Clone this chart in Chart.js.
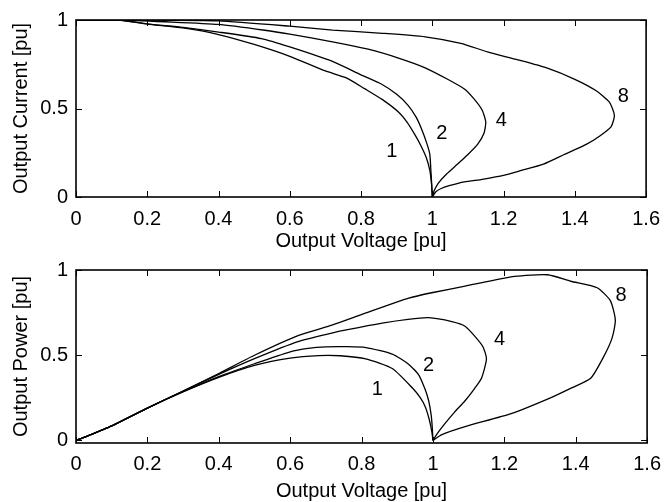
<!DOCTYPE html>
<html>
<head>
<meta charset="utf-8">
<script src="https://cdn.jsdelivr.net/npm/chart.js@4.4.1/dist/chart.umd.min.js"></script>
<style>
    body { margin: 0; background: #fff; }
    #wrap { position: relative; width: 670px; height: 502px; }
    #topChart { position: absolute; left: 0; top: 0; }
    #bottomChart { position: absolute; left: 0; top: 250px; }
</style>
</head>
<body>
<div id="wrap">
    <canvas id="topChart" width="670" height="256"></canvas>
    <canvas id="bottomChart" width="670" height="252"></canvas>
</div>
<script>
// tick values
const xTicks = [0, 0.2, 0.4, 0.6, 0.8, 1, 1.2, 1.4, 1.6];
const yTicks = [0, 0.5, 1];
const curveNames = ['1', '2', '4', '8'];

// top plot: output current vs output voltage
const iv1V = [0, 0.12, 0.2, 0.3, 0.4, 0.5, 0.6, 0.7, 0.76, 0.81, 0.86, 0.905, 0.93, 0.951, 0.968, 0.983, 0.993, 0.998, 1.0];
const iv1I = [1, 1, 0.977, 0.955, 0.918, 0.862, 0.795, 0.712, 0.672, 0.612, 0.55, 0.48, 0.42, 0.352, 0.29, 0.223, 0.15, 0.07, 0];

const iv2V = [0, 0.12, 0.2, 0.3, 0.4, 0.52, 0.6, 0.72, 0.8, 0.858, 0.9, 0.932, 0.955, 0.969, 0.985, 0.993, 0.996, 0.998, 1.0];
const iv2I = [1, 1, 0.978, 0.958, 0.932, 0.895, 0.848, 0.766, 0.69, 0.637, 0.58, 0.518, 0.45, 0.388, 0.3, 0.241, 0.15, 0.08, 0];

const iv4V = [0, 0.12, 0.25, 0.4, 0.53, 0.6, 0.72, 0.82, 0.905, 0.98, 1.043, 1.09, 1.117, 1.14, 1.15, 1.145, 1.127, 1.1, 1.071, 1.04, 1.016, 1.005, 1.0];
const iv4I = [1, 1, 0.99, 0.975, 0.942, 0.92, 0.877, 0.835, 0.785, 0.73, 0.665, 0.61, 0.554, 0.49, 0.425, 0.36, 0.297, 0.24, 0.186, 0.13, 0.076, 0.035, 0];

const iv8V = [0, 0.2, 0.4, 0.6, 0.72, 0.86, 0.98, 1.08, 1.155, 1.24, 1.321, 1.4, 1.46, 1.497, 1.511, 1.502, 1.47, 1.432, 1.37, 1.312, 1.25, 1.2, 1.14, 1.09, 1.05, 1.025, 1.01, 1.0];
const iv8I = [1, 1, 0.995, 0.965, 0.943, 0.925, 0.905, 0.868, 0.82, 0.775, 0.729, 0.665, 0.6, 0.536, 0.462, 0.398, 0.345, 0.297, 0.24, 0.186, 0.15, 0.122, 0.1, 0.085, 0.065, 0.048, 0.03, 0];

// bottom plot: output power vs output voltage
const pv1V = [0, 0.03, 0.1, 0.2, 0.3, 0.4, 0.5, 0.6, 0.68, 0.74, 0.812, 0.886, 0.942, 0.965, 0.979, 0.99, 0.997, 1.0];
const pv1P = [0, 0.024, 0.085, 0.19, 0.285, 0.37, 0.44, 0.483, 0.498, 0.497, 0.479, 0.422, 0.309, 0.25, 0.195, 0.12, 0.05, 0];

const pv2V = [0, 0.03, 0.1, 0.2, 0.3, 0.4, 0.5, 0.6, 0.65, 0.7, 0.76, 0.812, 0.886, 0.93, 0.96, 0.978, 0.988, 0.995, 0.998, 1.0];
const pv2P = [0, 0.024, 0.085, 0.19, 0.287, 0.375, 0.45, 0.52, 0.54, 0.549, 0.55, 0.545, 0.507, 0.45, 0.385, 0.3, 0.233, 0.15, 0.08, 0];

const pv4V = [0, 0.03, 0.1, 0.2, 0.3, 0.4, 0.5, 0.622, 0.719, 0.761, 0.858, 0.93, 0.988, 1.053, 1.09, 1.117, 1.14, 1.15, 1.136, 1.115, 1.09, 1.06, 1.034, 1.012, 1.0];
const pv4P = [0, 0.024, 0.085, 0.19, 0.29, 0.388, 0.48, 0.58, 0.631, 0.65, 0.688, 0.71, 0.72, 0.697, 0.67, 0.612, 0.55, 0.479, 0.365, 0.3, 0.233, 0.165, 0.1, 0.04, 0];

const pv8V = [0, 0.03, 0.1, 0.2, 0.3, 0.4, 0.5, 0.622, 0.719, 0.807, 0.932, 1.0, 1.09, 1.229, 1.321, 1.386, 1.46, 1.497, 1.511, 1.502, 1.478, 1.442, 1.39, 1.321, 1.219, 1.09, 1.025, 1.0];
const pv8P = [0, 0.024, 0.085, 0.19, 0.29, 0.393, 0.5, 0.615, 0.678, 0.744, 0.835, 0.868, 0.905, 0.962, 0.972, 0.934, 0.896, 0.82, 0.706, 0.602, 0.49, 0.365, 0.31, 0.242, 0.157, 0.081, 0.034, 0];

// where the curve numbers sit (data units)
const topLabelV = [0.886, 1.027, 1.194, 1.536];
const topLabelI = [0.256, 0.361, 0.435, 0.567];
const botLabelV = [0.844, 0.988, 1.187, 1.527];
const botLabelP = [0.297, 0.44, 0.591, 0.848];

const FONT = "'Liberation Sans', Arial, Helvetica, sans-serif";

function toPoints(xs, ys) {
    return xs.map((x, k) => ({ x: x, y: ys[k] }));
}

function makeSet(xs, ys) {
    return {
        data: toPoints(xs, ys),
        showLine: true,
        borderColor: '#000',
        borderWidth: 1.3,
        pointRadius: 0,
        tension: 0.2,
        fill: false
    };
}

// box round the plot + matlab-like inward ticks + curve numbers
const boxPlugin = {
    id: 'box',
    afterDatasetsDraw(chart, args, opts) {
        const ctx = chart.ctx;
        const a = chart.chartArea;
        const xs = chart.scales.x, ys = chart.scales.y;
        const len = 6;
        ctx.save();
        ctx.strokeStyle = '#000';
        ctx.lineWidth = 1;
        xs.ticks.forEach(t => {
            const px = Math.round(xs.getPixelForValue(t.value)) + 0.5;
            ctx.beginPath();
            ctx.moveTo(px, a.bottom); ctx.lineTo(px, a.bottom - len);
            ctx.moveTo(px, a.top); ctx.lineTo(px, a.top + len);
            ctx.stroke();
        });
        ys.ticks.forEach(t => {
            const py = Math.round(ys.getPixelForValue(t.value)) + 0.5;
            ctx.beginPath();
            ctx.moveTo(a.left, py); ctx.lineTo(a.left + len, py);
            ctx.moveTo(a.right, py); ctx.lineTo(a.right - len, py);
            ctx.stroke();
        });
        ctx.lineWidth = 1.6;
        ctx.strokeRect(a.left, a.top, a.right - a.left, a.bottom - a.top);

        ctx.fillStyle = '#000';
        ctx.font = '20px ' + FONT;
        ctx.textAlign = 'center';
        ctx.textBaseline = 'middle';
        opts.names.forEach((n, k) => {
            ctx.fillText(n, xs.getPixelForValue(opts.lx[k]), ys.getPixelForValue(opts.ly[k]));
        });
        ctx.restore();
    }
};

function makeChart(id, sets, yTitle, yMin, cfg) {
    return new Chart(document.getElementById(id), {
        type: 'scatter',
        data: { datasets: sets },
        plugins: [boxPlugin],
        options: {
            responsive: false,
            animation: false,
            devicePixelRatio: 1,
            layout: { padding: { top: cfg.top, right: 18, left: 0, bottom: 0 } },
            plugins: {
                legend: { display: false },
                tooltip: { enabled: false },
                box: { names: curveNames, lx: cfg.lx, ly: cfg.ly }
            },
            scales: {
                x: {
                    type: 'linear',
                    min: 0, max: 1.6,
                    afterBuildTicks: s => { s.ticks = xTicks.map(v => ({ value: v })); },
                    afterFit: s => { s.height = cfg.xh; },
                    grid: { display: false, drawTicks: false },
                    border: { display: false },
                    ticks: { color: '#000', padding: cfg.xpad, font: { family: FONT, size: 20 }, callback: v => String(v) },
                    title: {
                        display: true, text: 'Output Voltage [pu]', color: '#000',
                        font: { family: FONT, size: 20, lineHeight: 1 },
                        padding: { top: 0, bottom: cfg.tpad }
                    }
                },
                y: {
                    type: 'linear',
                    min: yMin, max: 1,
                    afterBuildTicks: s => { s.ticks = yTicks.map(v => ({ value: v })); },
                    afterFit: s => { s.width = 76; },
                    grid: { display: false, drawTicks: false },
                    border: { display: false },
                    ticks: { color: '#000', padding: 8, font: { family: FONT, size: 20 }, callback: v => String(v) },
                    title: {
                        display: true, text: yTitle, color: '#000',
                        font: { family: FONT, size: 20, lineHeight: 1 },
                        padding: { top: 11, bottom: 0 }
                    }
                }
            }
        }
    });
}

makeChart('topChart', [
    makeSet(iv1V, iv1I), makeSet(iv2V, iv2I), makeSet(iv4V, iv4I), makeSet(iv8V, iv8I)
], 'Output Current [pu]', 0, { top: 16, xh: 59, xpad: 10, tpad: 5, lx: topLabelV, ly: topLabelI });

makeChart('bottomChart', [
    makeSet(pv1V, pv1P), makeSet(pv2V, pv2P), makeSet(pv4V, pv4P), makeSet(pv8V, pv8P)
], 'Output Power [pu]', -0.015, { top: 15, xh: 59, xpad: 9, tpad: 1, lx: botLabelV, ly: botLabelP });
</script>
</body>
</html>
